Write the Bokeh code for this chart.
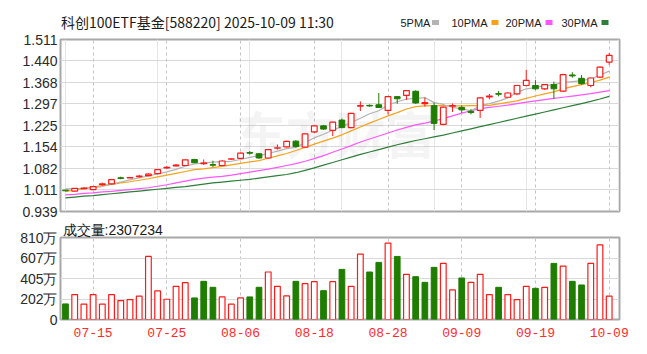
from bokeh.plotting import figure
from bokeh.layouts import column
from bokeh.models import Range1d, FixedTicker, Label, Grid, PrintfTickFormatter
from bokeh.core.properties import value
from bokeh.embed import file_html
from bokeh.resources import INLINE

# ---------------- data ----------------
dates = ["07-10", "07-11", "07-14", "07-15", "07-16", "07-17", "07-18", "07-21", "07-22", "07-23",
         "07-24", "07-25", "07-28", "07-29", "07-30", "07-31", "08-01", "08-04", "08-05", "08-06",
         "08-07", "08-08", "08-11", "08-12", "08-13", "08-14", "08-15", "08-18", "08-19", "08-20",
         "08-21", "08-22", "08-25", "08-26", "08-27", "08-28", "08-29", "09-01", "09-02", "09-03",
         "09-04", "09-05", "09-08", "09-09", "09-10", "09-11", "09-12", "09-15", "09-16", "09-17",
         "09-18", "09-19", "09-22", "09-23", "09-24", "09-25", "09-26", "09-29", "09-30", "10-09"]

opens = [1.010, 1.007, 1.015, 1.012, 1.028, 1.031, 1.051, 1.051, 1.055, 1.058,
         1.065, 1.084, 1.091, 1.092, 1.112, 1.098, 1.095, 1.092, 1.113, 1.116,
         1.135, 1.131, 1.117, 1.150, 1.154, 1.173, 1.153, 1.204, 1.224, 1.209,
         1.243, 1.218, 1.289, 1.292, 1.294, 1.275, 1.321, 1.325, 1.339, 1.298,
         1.291, 1.229, 1.289, 1.285, 1.272, 1.275, 1.320, 1.331, 1.319, 1.330,
         1.358, 1.358, 1.347, 1.361, 1.339, 1.393, 1.382, 1.358, 1.386, 1.436]
highs = [1.011, 1.017, 1.020, 1.024, 1.035, 1.046, 1.055, 1.053, 1.061, 1.066,
         1.080, 1.090, 1.097, 1.112, 1.114, 1.112, 1.108, 1.110, 1.115, 1.135,
         1.140, 1.133, 1.147, 1.162, 1.174, 1.176, 1.198, 1.226, 1.227, 1.238,
         1.248, 1.267, 1.305, 1.295, 1.333, 1.323, 1.323, 1.343, 1.342, 1.318,
         1.301, 1.288, 1.298, 1.292, 1.280, 1.320, 1.330, 1.340, 1.336, 1.360,
         1.410, 1.376, 1.363, 1.371, 1.397, 1.402, 1.393, 1.385, 1.421, 1.466]
lows = [1.006, 1.005, 1.013, 1.011, 1.026, 1.029, 1.046, 1.050, 1.052, 1.056,
        1.063, 1.081, 1.089, 1.091, 1.100, 1.094, 1.087, 1.090, 1.111, 1.114,
        1.128, 1.114, 1.115, 1.145, 1.152, 1.152, 1.151, 1.200, 1.211, 1.190,
        1.216, 1.216, 1.273, 1.287, 1.283, 1.262, 1.297, 1.310, 1.297, 1.288,
        1.210, 1.226, 1.270, 1.267, 1.262, 1.250, 1.312, 1.322, 1.317, 1.326,
        1.355, 1.344, 1.344, 1.314, 1.336, 1.384, 1.361, 1.352, 1.384, 1.427]
closes = [1.008, 1.016, 1.017, 1.022, 1.031, 1.045, 1.049, 1.052, 1.057, 1.063,
          1.078, 1.086, 1.093, 1.111, 1.101, 1.100, 1.093, 1.107, 1.114, 1.133,
          1.133, 1.117, 1.145, 1.151, 1.172, 1.155, 1.197, 1.224, 1.213, 1.236,
          1.218, 1.265, 1.291, 1.290, 1.285, 1.321, 1.314, 1.341, 1.300, 1.301,
          1.232, 1.286, 1.291, 1.277, 1.268, 1.317, 1.323, 1.329, 1.333, 1.358,
          1.375, 1.347, 1.361, 1.347, 1.394, 1.390, 1.364, 1.383, 1.419, 1.458]

ma5 = [1.014, 1.015, 1.016, 1.018, 1.022, 1.030, 1.037, 1.044, 1.051, 1.057,
       1.064, 1.071, 1.079, 1.090, 1.097, 1.101, 1.103, 1.105, 1.106, 1.112,
       1.119, 1.125, 1.132, 1.140, 1.148, 1.152, 1.168, 1.184, 1.196, 1.209,
       1.222, 1.235, 1.249, 1.264, 1.274, 1.293, 1.304, 1.313, 1.315, 1.318,
       1.301, 1.295, 1.285, 1.280, 1.274, 1.291, 1.298, 1.306, 1.317, 1.335,
       1.347, 1.351, 1.358, 1.361, 1.368, 1.371, 1.374, 1.379, 1.393, 1.406]
ma10 = [1.006, 1.010, 1.015, 1.020, 1.025, 1.029, 1.034, 1.038, 1.043, 1.048,
        1.054, 1.060, 1.066, 1.072, 1.078, 1.081, 1.085, 1.089, 1.094, 1.099,
        1.104, 1.108, 1.116, 1.124, 1.132, 1.142, 1.152, 1.163, 1.173, 1.183,
        1.194, 1.207, 1.220, 1.233, 1.245, 1.257, 1.268, 1.280, 1.288, 1.290,
        1.291, 1.291, 1.290, 1.290, 1.291, 1.291, 1.292, 1.297, 1.302, 1.307,
        1.315, 1.323, 1.330, 1.337, 1.347, 1.354, 1.361, 1.368, 1.376, 1.386]
ma20 = [0.994, 0.996, 0.999, 1.001, 1.004, 1.006, 1.009, 1.012, 1.015, 1.018,
        1.023, 1.028, 1.034, 1.040, 1.046, 1.050, 1.053, 1.056, 1.060, 1.065,
        1.070, 1.075, 1.080, 1.086, 1.092, 1.098, 1.106, 1.115, 1.125, 1.136,
        1.147, 1.158, 1.170, 1.180, 1.190, 1.200, 1.210, 1.219, 1.227, 1.233,
        1.240, 1.248, 1.257, 1.266, 1.274, 1.281, 1.285, 1.289, 1.293, 1.298,
        1.303, 1.307, 1.311, 1.315, 1.319, 1.323, 1.327, 1.331, 1.336, 1.341]
ma30 = [0.984, 0.987, 0.990, 0.992, 0.995, 0.998, 1.001, 1.004, 1.007, 1.010,
        1.013, 1.016, 1.019, 1.022, 1.026, 1.030, 1.034, 1.037, 1.040, 1.043,
        1.046, 1.050, 1.054, 1.058, 1.062, 1.068, 1.076, 1.084, 1.093, 1.102,
        1.111, 1.120, 1.129, 1.137, 1.145, 1.153, 1.161, 1.168, 1.175, 1.181,
        1.187, 1.193, 1.200, 1.207, 1.214, 1.221, 1.228, 1.235, 1.242, 1.249,
        1.256, 1.263, 1.270, 1.277, 1.284, 1.291, 1.298, 1.305, 1.313, 1.322]

# volume in 万 (10k shares)
volumes = [154, 246, 151, 246, 151, 246, 187, 197, 230, 623,
           282, 200, 328, 364, 213, 377, 318, 223, 151, 213,
           223, 318, 469, 328, 233, 377, 354, 374, 285, 374,
           495, 328, 646, 469, 564, 754, 623, 446, 423, 367,
           515, 554, 292, 410, 367, 446, 246, 318, 246, 197,
           328, 308, 318, 554, 528, 377, 341, 554, 738, 230.7234]
vol_up = [0, 1, 1, 1, 1, 1, 1, 1, 1, 1,
          1, 1, 1, 1, 0, 0, 0, 1, 1, 1,
          0, 0, 1, 1, 1, 0, 1, 1, 0, 1,
          0, 1, 1, 0, 0, 1, 0, 1, 0, 0,
          0, 1, 1, 0, 1, 1, 1, 0, 1, 1,
          1, 0, 1, 0, 1, 0, 0, 1, 1, 1]

price_ticks = [0.939, 1.011, 1.082, 1.154, 1.225, 1.297, 1.368, 1.440, 1.511]
vol_ticks = [0, 202, 405, 607, 810]
vol_tick_labels = ["0", "202万", "405万", "607万", "810万"]
x_tick_labels = ["07-15", "07-25", "08-06", "08-18", "08-28", "09-09", "09-19", "10-09"]

title_text = "科创100ETF基金[588220] 2025-10-09 11:30"
vol_title = "成交量:2307234"
ma_names = ["5PMA", "10PMA", "20PMA", "30PMA"]

# ---------------- style ----------------
RED = "#ff1a1a"
GREEN = "#1f7d00"
MA_COLORS = ["#b3b3b3", "#f7a21b", "#ff55ff", "#2e7d3a"]
GRID = "#d9d9d9"
VGRID = "#c4c4c4"
BORDER = "#a8a8a8"
AXFONT = "Liberation Sans"
CJK = "Noto Sans CJK SC"

n = len(dates)
xs = list(range(n))
x_tick_idx = [dates.index(d) for d in x_tick_labels]
x_range = Range1d(-0.54, 60.12)

# ---------------- header strip (title + MA legend) ----------------
# the column aligns this strip's frame with the panels below (x 60..619 on the page)
h = figure(width=647, height=32, x_range=Range1d(60, 619), y_range=Range1d(32, 0),
           output_backend="svg", toolbar_location=None, x_axis_location=None, y_axis_location=None,
           min_border=0, min_border_left=60, min_border_right=28, min_border_top=0, min_border_bottom=0)
h.outline_line_color = None
h.xgrid.visible = False
h.ygrid.visible = False
h.text(x=[60.5], y=[21], text=[title_text], text_font=value(CJK), text_font_size="14px",
       text_color="#1a1a1a", text_baseline="middle", text_align="left")
leg_text_x = [400, 451, 505, 561]
leg_box_x = [435, 494.5, 548.5, 604.5]
h.text(x=leg_text_x, y=[22] * 4, text=ma_names, text_font=value(AXFONT),
       text_font_size="11px", text_color="#1a1a1a", text_baseline="middle", text_align="left")
h.rect(x=leg_box_x, y=[22] * 4, width=7, height=5, fill_color=MA_COLORS, line_color=None)

# ---------------- price panel ----------------
p1 = figure(width=647, height=187, x_range=x_range, y_range=Range1d(price_ticks[0], price_ticks[-1]),
            output_backend="svg", toolbar_location=None, x_axis_location=None,
            min_border_left=60, min_border_right=28, min_border_top=7, min_border_bottom=8)
p1.background_fill_color = "white"
p1.border_fill_color = "white"
p1.outline_line_color = BORDER
p1.outline_line_width = 2
p1.yaxis.ticker = FixedTicker(ticks=price_ticks)
p1.yaxis.formatter = PrintfTickFormatter(format="%.3f")
p1.yaxis.axis_line_color = None
p1.yaxis.major_tick_line_color = None
p1.yaxis.minor_tick_line_color = None
p1.yaxis.major_tick_out = 0
p1.yaxis.major_label_standoff = 3
p1.yaxis.major_label_text_font = AXFONT
p1.yaxis.major_label_text_font_size = "14px"
p1.yaxis.major_label_text_color = "#2a2a2a"
p1.ygrid.grid_line_color = GRID
p1.ygrid.ticker = FixedTicker(ticks=price_ticks)
p1.add_layout(Grid(dimension=0, ticker=FixedTicker(ticks=x_tick_idx),
                   grid_line_color=VGRID, grid_line_dash="3 3"))

wm = Label(x=175, y=80, x_units="screen", y_units="screen", text="东方财富",
           text_font=CJK, text_font_size="50px", text_font_style="bold",
           text_color="#000000", text_alpha=0.045, text_baseline="middle", level="underlay")
p1.add_layout(wm)

for ma, col in zip([ma30, ma20, ma10, ma5], MA_COLORS[::-1]):
    p1.line(xs, ma, line_color=col, line_width=1.2)

up = [i for i in xs if closes[i] >= opens[i]]
dn = [i for i in xs if closes[i] < opens[i]]

p1.segment([xs[i] for i in up], [lows[i] for i in up], [xs[i] for i in up], [highs[i] for i in up],
           line_color=RED, line_width=1)
p1.segment([xs[i] for i in dn], [lows[i] for i in dn], [xs[i] for i in dn], [highs[i] for i in dn],
           line_color=GREEN, line_width=1)
p1.vbar(x=[xs[i] for i in up], width=0.62, bottom=[opens[i] for i in up], top=[closes[i] for i in up],
        fill_color="white", line_color=RED, line_width=1.2)
p1.vbar(x=[xs[i] for i in dn], width=0.62, bottom=[closes[i] for i in dn], top=[opens[i] for i in dn],
        fill_color=GREEN, line_color=GREEN, line_width=1)

# ---------------- volume panel ----------------
p2 = figure(width=647, height=135, x_range=x_range, y_range=Range1d(0, 810),
            output_backend="svg", toolbar_location=None,
            min_border_left=60, min_border_right=28, min_border_top=18, min_border_bottom=35)
p2.title.text = vol_title
p2.title.align = "left"
p2.title.text_font = AXFONT
p2.title.text_font_size = "14px"
p2.title.text_font_style = "normal"
p2.title.text_color = "#1a1a1a"
p2.title.standoff = 0
p2.title.offset = 2
p2.background_fill_color = "white"
p2.border_fill_color = "white"
p2.outline_line_color = BORDER
p2.outline_line_width = 2
p2.yaxis.ticker = FixedTicker(ticks=vol_ticks)
p2.yaxis.major_label_overrides = {t: s for t, s in zip(vol_ticks, vol_tick_labels)}
p2.yaxis.axis_line_color = None
p2.yaxis.major_tick_line_color = None
p2.yaxis.minor_tick_line_color = None
p2.yaxis.major_tick_out = 0
p2.yaxis.major_label_standoff = 3
p2.yaxis.major_label_text_font = AXFONT
p2.yaxis.major_label_text_font_size = "14px"
p2.yaxis.major_label_text_color = "#2a2a2a"
p2.ygrid.grid_line_color = GRID
p2.ygrid.ticker = FixedTicker(ticks=vol_ticks)

p2.xaxis.ticker = FixedTicker(ticks=x_tick_idx)
p2.xaxis.major_label_overrides = {i: dates[i] for i in x_tick_idx}
p2.xaxis.axis_line_color = None
p2.xaxis.major_tick_line_color = None
p2.xaxis.minor_tick_line_color = None
p2.xaxis.major_tick_out = 0
p2.xaxis.major_label_standoff = 8
p2.xaxis.major_label_text_font = "Liberation Mono"
p2.xaxis.major_label_text_font_size = "13px"
p2.xaxis.major_label_text_color = "#ff2a2a"
p2.xgrid.ticker = FixedTicker(ticks=x_tick_idx)
p2.xgrid.grid_line_color = VGRID
p2.xgrid.grid_line_dash = "3 3"

vu = [i for i in xs if vol_up[i]]
vd = [i for i in xs if not vol_up[i]]
p2.vbar(x=[xs[i] for i in vu], width=0.62, bottom=0, top=[volumes[i] for i in vu],
        fill_color="white", line_color=RED, line_width=1.2)
p2.vbar(x=[xs[i] for i in vd], width=0.62, bottom=0, top=[volumes[i] for i in vd],
        fill_color=GREEN, line_color=GREEN, line_width=1)

layout = column(h, p1, p2, spacing=0)
open("out.html", "w").write(file_html(layout, INLINE))
